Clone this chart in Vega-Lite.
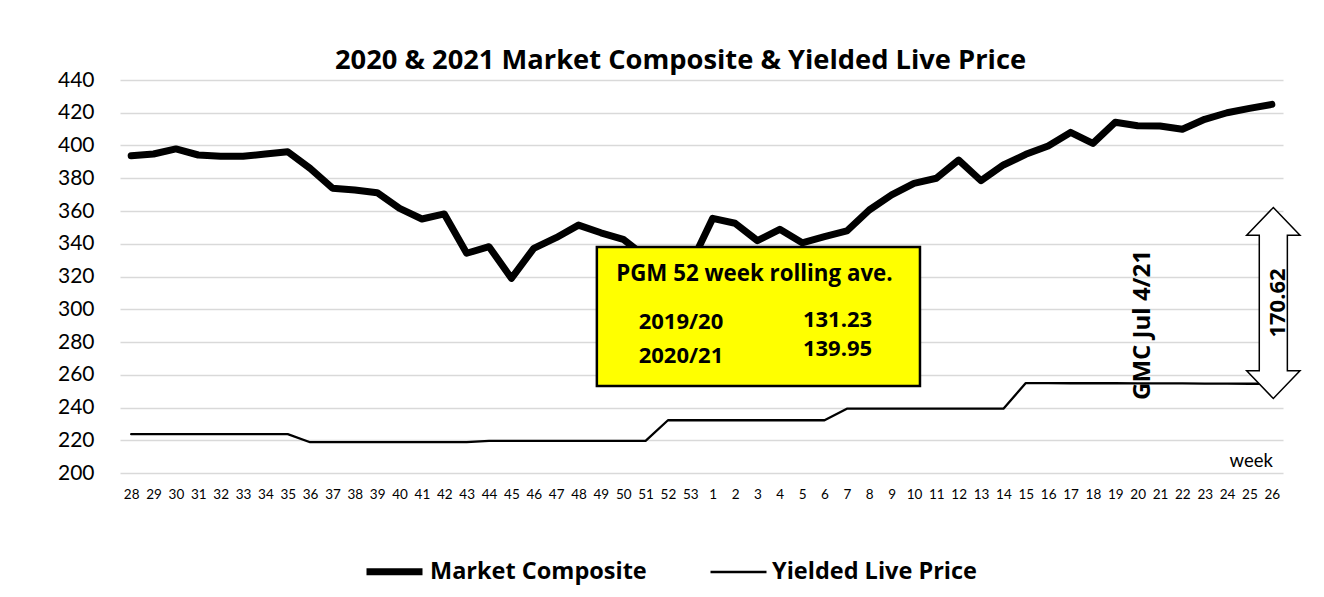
{
  "$schema": "https://vega.github.io/schema/vega-lite/v6.json",
  "width": 1163,
  "height": 393,
  "autosize": {"type": "none"},
  "padding": {"left": 120, "top": 80, "right": 41, "bottom": 124},
  "background": "white",
  "config": {
    "font": "Lato",
    "view": {"stroke": null},
    "axisY": {"labelPadding": 26, "labelAlign": "right", "ticks": false, "domain": false, "labelFontSize": 21, "labelColor": "black", "grid": true, "gridColor": "#d9d9d9", "gridWidth": 1.5},
    "axisX": {"labelPadding": 14, "ticks": false, "domain": false, "labelFontSize": 13.5, "labelColor": "black", "labelAngle": 0, "grid": false}
  },
  "title": {"text": "2020 & 2021 Market Composite & Yielded Live Price", "font": "Open Sans", "fontSize": 27.3, "fontWeight": "bold", "color": "black", "anchor": "middle", "dx": -21, "offset": -27, "baseline": "alphabetic"},
  "datasets": {
    "series": [
      {"week": "28", "series": "Market Composite", "value": 393.8},
      {"week": "29", "series": "Market Composite", "value": 394.8},
      {"week": "30", "series": "Market Composite", "value": 397.9},
      {"week": "31", "series": "Market Composite", "value": 394.2},
      {"week": "32", "series": "Market Composite", "value": 393.4},
      {"week": "33", "series": "Market Composite", "value": 393.4},
      {"week": "34", "series": "Market Composite", "value": 394.8},
      {"week": "35", "series": "Market Composite", "value": 396.2},
      {"week": "36", "series": "Market Composite", "value": 386.0},
      {"week": "37", "series": "Market Composite", "value": 373.9},
      {"week": "38", "series": "Market Composite", "value": 372.8},
      {"week": "39", "series": "Market Composite", "value": 371.2},
      {"week": "40", "series": "Market Composite", "value": 361.6},
      {"week": "41", "series": "Market Composite", "value": 355.1},
      {"week": "42", "series": "Market Composite", "value": 358.2},
      {"week": "43", "series": "Market Composite", "value": 334.2},
      {"week": "44", "series": "Market Composite", "value": 338.2},
      {"week": "45", "series": "Market Composite", "value": 318.9},
      {"week": "46", "series": "Market Composite", "value": 337.2},
      {"week": "47", "series": "Market Composite", "value": 343.7},
      {"week": "48", "series": "Market Composite", "value": 351.4},
      {"week": "49", "series": "Market Composite", "value": 346.7},
      {"week": "50", "series": "Market Composite", "value": 342.7},
      {"week": "51", "series": "Market Composite", "value": 332.0},
      {"week": "52", "series": "Market Composite", "value": 326.0},
      {"week": "53", "series": "Market Composite", "value": 327.0},
      {"week": "1", "series": "Market Composite", "value": 355.5},
      {"week": "2", "series": "Market Composite", "value": 352.5},
      {"week": "3", "series": "Market Composite", "value": 341.9},
      {"week": "4", "series": "Market Composite", "value": 348.8},
      {"week": "5", "series": "Market Composite", "value": 340.6},
      {"week": "6", "series": "Market Composite", "value": 344.3},
      {"week": "7", "series": "Market Composite", "value": 347.8},
      {"week": "8", "series": "Market Composite", "value": 360.6},
      {"week": "9", "series": "Market Composite", "value": 369.8},
      {"week": "10", "series": "Market Composite", "value": 376.9},
      {"week": "11", "series": "Market Composite", "value": 380.0},
      {"week": "12", "series": "Market Composite", "value": 391.1},
      {"week": "13", "series": "Market Composite", "value": 378.5},
      {"week": "14", "series": "Market Composite", "value": 388.1},
      {"week": "15", "series": "Market Composite", "value": 394.6},
      {"week": "16", "series": "Market Composite", "value": 399.7},
      {"week": "17", "series": "Market Composite", "value": 408.0},
      {"week": "18", "series": "Market Composite", "value": 401.3},
      {"week": "19", "series": "Market Composite", "value": 414.2},
      {"week": "20", "series": "Market Composite", "value": 412.1},
      {"week": "21", "series": "Market Composite", "value": 411.9},
      {"week": "22", "series": "Market Composite", "value": 409.9},
      {"week": "23", "series": "Market Composite", "value": 416.0},
      {"week": "24", "series": "Market Composite", "value": 420.0},
      {"week": "25", "series": "Market Composite", "value": 422.7},
      {"week": "26", "series": "Market Composite", "value": 425.1},
      {"week": "28", "series": "Yielded Live Price", "value": 223.7},
      {"week": "29", "series": "Yielded Live Price", "value": 223.7},
      {"week": "30", "series": "Yielded Live Price", "value": 223.7},
      {"week": "31", "series": "Yielded Live Price", "value": 223.7},
      {"week": "32", "series": "Yielded Live Price", "value": 223.7},
      {"week": "33", "series": "Yielded Live Price", "value": 223.7},
      {"week": "34", "series": "Yielded Live Price", "value": 223.7},
      {"week": "35", "series": "Yielded Live Price", "value": 223.7},
      {"week": "36", "series": "Yielded Live Price", "value": 218.8},
      {"week": "37", "series": "Yielded Live Price", "value": 218.8},
      {"week": "38", "series": "Yielded Live Price", "value": 218.8},
      {"week": "39", "series": "Yielded Live Price", "value": 218.8},
      {"week": "40", "series": "Yielded Live Price", "value": 218.8},
      {"week": "41", "series": "Yielded Live Price", "value": 218.8},
      {"week": "42", "series": "Yielded Live Price", "value": 218.8},
      {"week": "43", "series": "Yielded Live Price", "value": 218.8},
      {"week": "44", "series": "Yielded Live Price", "value": 219.6},
      {"week": "45", "series": "Yielded Live Price", "value": 219.6},
      {"week": "46", "series": "Yielded Live Price", "value": 219.6},
      {"week": "47", "series": "Yielded Live Price", "value": 219.6},
      {"week": "48", "series": "Yielded Live Price", "value": 219.6},
      {"week": "49", "series": "Yielded Live Price", "value": 219.6},
      {"week": "50", "series": "Yielded Live Price", "value": 219.6},
      {"week": "51", "series": "Yielded Live Price", "value": 219.6},
      {"week": "52", "series": "Yielded Live Price", "value": 232.2},
      {"week": "53", "series": "Yielded Live Price", "value": 232.2},
      {"week": "1", "series": "Yielded Live Price", "value": 232.2},
      {"week": "2", "series": "Yielded Live Price", "value": 232.2},
      {"week": "3", "series": "Yielded Live Price", "value": 232.2},
      {"week": "4", "series": "Yielded Live Price", "value": 232.2},
      {"week": "5", "series": "Yielded Live Price", "value": 232.2},
      {"week": "6", "series": "Yielded Live Price", "value": 232.2},
      {"week": "7", "series": "Yielded Live Price", "value": 239.3},
      {"week": "8", "series": "Yielded Live Price", "value": 239.3},
      {"week": "9", "series": "Yielded Live Price", "value": 239.3},
      {"week": "10", "series": "Yielded Live Price", "value": 239.3},
      {"week": "11", "series": "Yielded Live Price", "value": 239.3},
      {"week": "12", "series": "Yielded Live Price", "value": 239.3},
      {"week": "13", "series": "Yielded Live Price", "value": 239.3},
      {"week": "14", "series": "Yielded Live Price", "value": 239.3},
      {"week": "15", "series": "Yielded Live Price", "value": 254.9},
      {"week": "16", "series": "Yielded Live Price", "value": 254.9},
      {"week": "17", "series": "Yielded Live Price", "value": 254.8},
      {"week": "18", "series": "Yielded Live Price", "value": 254.8},
      {"week": "19", "series": "Yielded Live Price", "value": 254.8},
      {"week": "20", "series": "Yielded Live Price", "value": 254.7},
      {"week": "21", "series": "Yielded Live Price", "value": 254.7},
      {"week": "22", "series": "Yielded Live Price", "value": 254.7},
      {"week": "23", "series": "Yielded Live Price", "value": 254.6},
      {"week": "24", "series": "Yielded Live Price", "value": 254.6},
      {"week": "25", "series": "Yielded Live Price", "value": 254.5},
      {"week": "26", "series": "Yielded Live Price", "value": 254.5}
    ],
    "box": [{"from": "49", "to": "10", "lo": 253.1, "hi": 338.0}],
    "boxTitle": [{"week": "3", "value": 317.4, "text": "PGM 52 week rolling ave."}],
    "boxRows": [
      {"week": "52", "value": 287.8, "text": "2019/20"},
      {"week": "52", "value": 267.3, "text": "2020/21"},
      {"week": "6", "value": 289.0, "text": "131.23"},
      {"week": "6", "value": 271.5, "text": "139.95"}
    ],
    "gmc": [{"week": "20", "value": 290.4, "text": "GMC Jul 4/21"}],
    "gap": [{"week": "26", "value": 303.8, "text": "170.62"}],
    "axisNote": [{"week": "26", "value": 203.7, "text": "week"}]
  },
  "encoding": {
    "x": {
      "field": "week", "type": "ordinal",
      "scale": {"type": "point", "padding": 0.5, "domain": ["28","29","30","31","32","33","34","35","36","37","38","39","40","41","42","43","44","45","46","47","48","49","50","51","52","53","1","2","3","4","5","6","7","8","9","10","11","12","13","14","15","16","17","18","19","20","21","22","23","24","25","26"]},
      "axis": {"title": null}
    },
    "y": {
      "field": "value", "type": "quantitative",
      "scale": {"domain": [200, 440], "nice": false, "zero": false},
      "axis": {"title": null, "values": [200,220,240,260,280,300,320,340,360,380,400,420,440]}
    }
  },
  "layer": [
    {
      "data": {"name": "series"},
      "mark": {"type": "line", "color": "black", "strokeCap": "round", "strokeJoin": "round"},
      "encoding": {
        "detail": {"field": "series"},
        "strokeWidth": {
          "field": "series", "type": "ordinal",
          "scale": {"domain": ["Market Composite", "Yielded Live Price"], "range": [7, 2.3]},
          "legend": {"title": null, "orient": "none", "legendX": 243, "legendY": 460, "padding": 0, "direction": "horizontal", "symbolType": "stroke", "symbolSize": 3136, "symbolStrokeColor": "black", "labelFont": "Open Sans", "labelFontSize": 23.5, "labelFontWeight": "bold", "labelColor": "black", "labelLimit": 400, "columnPadding": 58, "labelOffset": 4}
        }
      }
    },
    {
      "data": {"name": "box"},
      "mark": {"type": "rect", "fill": "#FFFF00", "stroke": "black", "strokeWidth": 2.5, "xOffset": -4, "x2Offset": 6},
      "encoding": {
        "x": {"field": "from", "type": "ordinal", "axis": {"title": null}},
        "x2": {"field": "to"},
        "y": {"field": "hi", "type": "quantitative", "axis": {"title": null, "values": [200,220,240,260,280,300,320,340,360,380,400,420,440]}},
        "y2": {"field": "lo"}
      }
    },
    {
      "data": {"name": "boxTitle"},
      "mark": {"type": "text", "font": "Open Sans", "fontSize": 22.3, "fontWeight": "bold", "color": "black", "align": "center", "baseline": "alphabetic", "dx": -3},
      "encoding": {"text": {"field": "text"}}
    },
    {
      "data": {"name": "boxRows"},
      "mark": {"type": "text", "font": "Open Sans", "fontSize": 22, "fontWeight": "bold", "color": "black", "align": "center", "baseline": "alphabetic", "dx": 13},
      "encoding": {"text": {"field": "text"}}
    },
    {
      "data": {"name": "gmc"},
      "mark": {"type": "text", "font": "Open Sans", "fontSize": 24, "fontWeight": "bold", "color": "black", "align": "center", "baseline": "alphabetic", "angle": 270, "xOffset": 12},
      "encoding": {"text": {"field": "text"}}
    },
    {
      "data": {"name": "gap"},
      "mark": {"type": "point", "shape": "M0,-1L0.279,-0.71L0.147,-0.71L0.147,0.71L0.279,0.71L0,1L-0.279,0.71L-0.147,0.71L-0.147,-0.71L-0.279,-0.71Z", "size": 36481, "filled": true, "fill": "white", "stroke": "black", "strokeWidth": 1.5, "opacity": 1, "xOffset": 1.5}
    },
    {
      "data": {"name": "gap"},
      "mark": {"type": "text", "font": "Open Sans", "fontSize": 22, "fontWeight": "bold", "color": "black", "align": "center", "baseline": "alphabetic", "angle": 270, "xOffset": 13},
      "encoding": {"text": {"field": "text"}}
    },
    {
      "data": {"name": "axisNote"},
      "mark": {"type": "text", "fontSize": 18.5, "color": "black", "align": "right", "baseline": "alphabetic", "xOffset": 1},
      "encoding": {"text": {"field": "text"}}
    }
  ]
}
